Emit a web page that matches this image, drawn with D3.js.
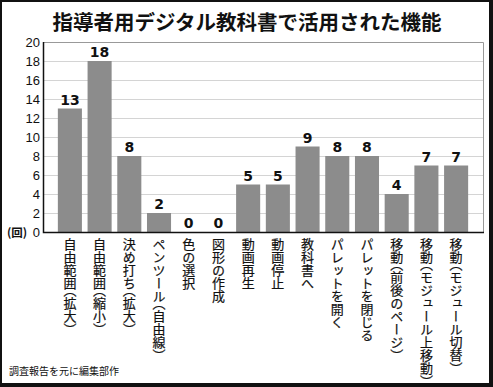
<!DOCTYPE html>
<html>
<head>
<meta charset="utf-8">
<script src="https://cdn.jsdelivr.net/npm/d3@7"></script>
<style>
body { margin: 0; background: #fff; }
svg { display: block; }
.cat { writing-mode: vertical-rl; font-feature-settings: "vhal" 1; }
</style>
</head>
<body>
<div id="chart"></div>
<script>
// data
var categories = ["自由範囲（拡大）", "自由範囲（縮小）", "決め打ち（拡大）", "ペンツール（自由線）",
    "色の選択", "図形の作成", "動画再生", "動画停止", "教科書へ", "パレットを開く",
    "パレットを閉じる", "移動（前後のページ）", "移動（モジュール上移動）", "移動（モジュール切替）"]
var values = [13, 18, 8, 2, 0, 0, 5, 5, 9, 8, 8, 4, 7, 7]
var yTicks = [0, 2, 4, 6, 8, 10, 12, 14, 16, 18, 20]

var svgWidth = 493
var svgHeight = 387
var plot = { left: 43, right: 483, top: 42, bottom: 232 }

var svg = d3.select("#chart")
    .append("svg")
    .attr("width", svgWidth)
    .attr("height", svgHeight)

// frame: black with a heavier right / bottom edge
svg.append("rect")
    .attr("width", svgWidth).attr("height", svgHeight)
    .attr("fill", "#111")
svg.append("rect")
    .attr("x", 2).attr("y", 2)
    .attr("width", 487).attr("height", 381)
    .attr("fill", "#fff")

svg.append("text")
    .attr("x", 247)
    .attr("y", 30)
    .attr("text-anchor", "middle")
    .attr("font-family", "'Noto Sans CJK JP', sans-serif")
    .attr("font-weight", "bold")
    .attr("font-size", "20.5px")
    .attr("fill", "#111")
    .text("指導者用デジタル教科書で活用された機能")

var x = d3.scaleBand()
    .domain(categories)
    .range([plot.left, plot.right])
    .paddingInner(0.19)
    .paddingOuter(0.5)

var y = d3.scaleLinear()
    .domain([0, 20])
    .range([plot.bottom, plot.top])

// gridlines
svg.append("g")
    .selectAll("line")
    .data(yTicks.filter(d => d > 0 && d < 20))
    .enter()
    .append("line")
    .attr("x1", plot.left).attr("x2", plot.right)
    .attr("y1", d => y(d) + 0.5).attr("y2", d => y(d) + 0.5)
    .attr("stroke", "#d4d4d4")
    .attr("stroke-width", 1)

// top and right edge of the plot
svg.append("path")
    .attr("d", `M${plot.left},${y(20) + 0.5}H${plot.right + 0.5}V${plot.bottom}`)
    .attr("fill", "none")
    .attr("stroke", "#999")
    .attr("stroke-width", 1)

svg.selectAll(".bar")
    .data(values)
    .enter()
    .append("rect")
    .classed("bar", true)
    .attr("x", (d, i) => x(categories[i]))
    .attr("y", d => y(d))
    .attr("width", x.bandwidth())
    .attr("height", d => y(0) - y(d))
    .attr("fill", "#8c8c8c")

svg.selectAll(".val")
    .data(values)
    .enter()
    .append("text")
    .classed("val", true)
    .attr("x", (d, i) => x(categories[i]) + x.bandwidth() / 2)
    .attr("y", d => y(d) - 4)
    .attr("text-anchor", "middle")
    .attr("font-family", "'DejaVu Sans', sans-serif")
    .attr("font-weight", "bold")
    .attr("font-size", "14px")
    .attr("fill", "#111")
    .text(d => d)

// axes
var leftAxis = d3.axisLeft(y).tickValues(yTicks).tickSize(0).tickPadding(3)
var yAxis = svg.append("g")
    .attr("transform", `translate(${plot.left},0)`)
    .call(leftAxis)
yAxis.select(".domain").remove()
yAxis.selectAll("text")
    .attr("font-family", "'Liberation Sans', Arial, sans-serif")
    .attr("font-size", "13px")
    .attr("fill", "#111")

svg.append("text")
    .attr("x", 7)
    .attr("y", y(0) + 4.5)
    .attr("font-family", "'Noto Sans CJK JP', sans-serif")
    .attr("font-size", "11.5px")
    .attr("font-weight", "bold")
    .attr("fill", "#111")
    .text("(回)")

svg.append("path")
    .attr("d", `M${plot.left + 0.5},${plot.top}V${plot.bottom + 0.5}H${plot.right + 1}`)
    .attr("fill", "none")
    .attr("stroke", "#111")
    .attr("stroke-width", 1.5)

// vertical category labels
svg.selectAll(".cat")
    .data(categories)
    .enter()
    .append("text")
    .classed("cat", true)
    .attr("x", d => x(d) + x.bandwidth() / 2)
    .attr("y", 238)
    .attr("font-family", "'Noto Sans CJK JP', sans-serif")
    .attr("font-size", "13px")
    .attr("fill", "#111")
    .attr("stroke", "#111")
    .attr("stroke-width", 0.2)
    .text(d => d)

svg.append("text")
    .attr("x", 9)
    .attr("y", 375)
    .attr("font-family", "'Noto Sans CJK JP', sans-serif")
    .attr("font-size", "10px")
    .attr("fill", "#111")
    .text("調査報告を元に編集部作")
</script>
</body>
</html>
